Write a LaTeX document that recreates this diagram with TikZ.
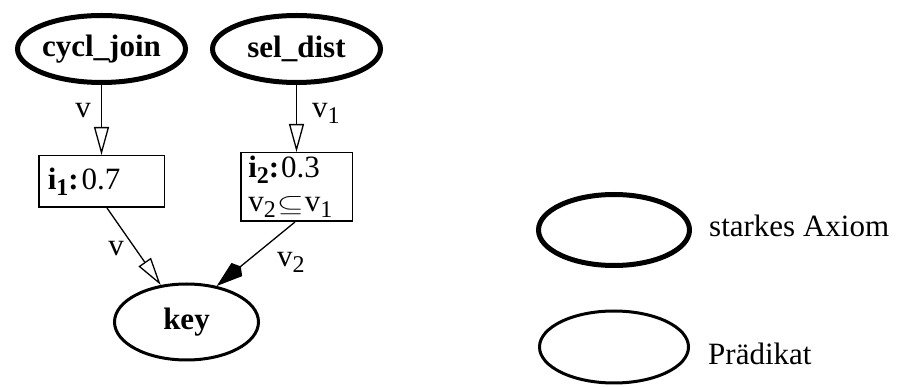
\documentclass[tikz,border=0pt]{standalone}
\usepackage{fontspec}
\usepackage{graphicx}
\setmainfont{Liberation Serif}
\usetikzlibrary{shapes.geometric,arrows.meta}
\newcommand\lsub[1]{\raisebox{-6pt}{\fontsize{24}{24}\selectfont #1}}
\newcommand\subeq{\hspace{1pt}\resizebox{27pt}{15pt}{$\subseteq$}\hspace{1pt}}
\begin{document}
\begin{tikzpicture}[x=1pt,y=-1pt,
  every node/.style={font=\fontsize{31}{34}\selectfont, inner sep=0pt},
  strong/.style={ellipse, draw, line width=5pt, font=\fontsize{31}{34}\selectfont\bfseries},
  pred/.style={ellipse, draw, line width=3pt, font=\fontsize{31}{34}\selectfont\bfseries},
  infobox/.style={draw, line width=1.5pt, align=left, inner ysep=0pt},
  openarr/.style={line width=1.3pt, -{Triangle[open, length=28pt, width=15pt, line width=1.3pt]}},
  fillarr/.style={line width=1.3pt, -{Kite[length=31pt, width=17pt, inset=5pt]}}]
\useasboundingbox (0,0) rectangle (898,387);

\node[strong, minimum width=168pt, minimum height=67pt] (cj) at (101.5,49) {cycl\_join};
\node[strong, minimum width=168pt, minimum height=67pt] (sd) at (296.5,49) {sel\_dist};

\node[infobox, minimum width=125.5pt, minimum height=51.5pt, inner xsep=9pt, text width=107.5pt] (i1) at (101.5,181.5)
  {\textbf{i\lsub{1}:}\hspace{3pt}0.7};
\node[infobox, minimum width=111.5pt, minimum height=68.5pt, inner xsep=7.5pt, text width=96.5pt] (i2) at (296.5,187)
  {\textbf{i\lsub{2}:}\hspace{2pt}0.3\\v\lsub{2}\subeq v\lsub{1}};

\node[pred, minimum width=144pt, minimum height=76pt] (key) at (186.5,322) {key};

\draw[openarr] (cj.south) -- (i1.north);
\draw[openarr] (sd.south) -- (i2.north);
\draw[openarr] ([xshift=5.5pt]i1.south) -- (key);
\draw[fillarr] ([xshift=-1.5pt]i2.south) -- (key.50);

\node (l1) at (83,111) {v};
\node[anchor=base west] (l2) at (312,118) {v\lsub{1}};
\node (l3) at (116,249) {v};
\node[anchor=base west] (l4) at (277,267) {v\lsub{2}};

\node[strong, minimum width=151pt, minimum height=71pt] (leg1) at (614,230) {};
\node[anchor=base west] (t1) at (709,237) {starkes Axiom};
\node[pred, minimum width=149pt, minimum height=72pt] (leg2) at (614,347) {};
\node[anchor=base west] (t2) at (708,365) {Prädikat};
\end{tikzpicture}
\end{document}
